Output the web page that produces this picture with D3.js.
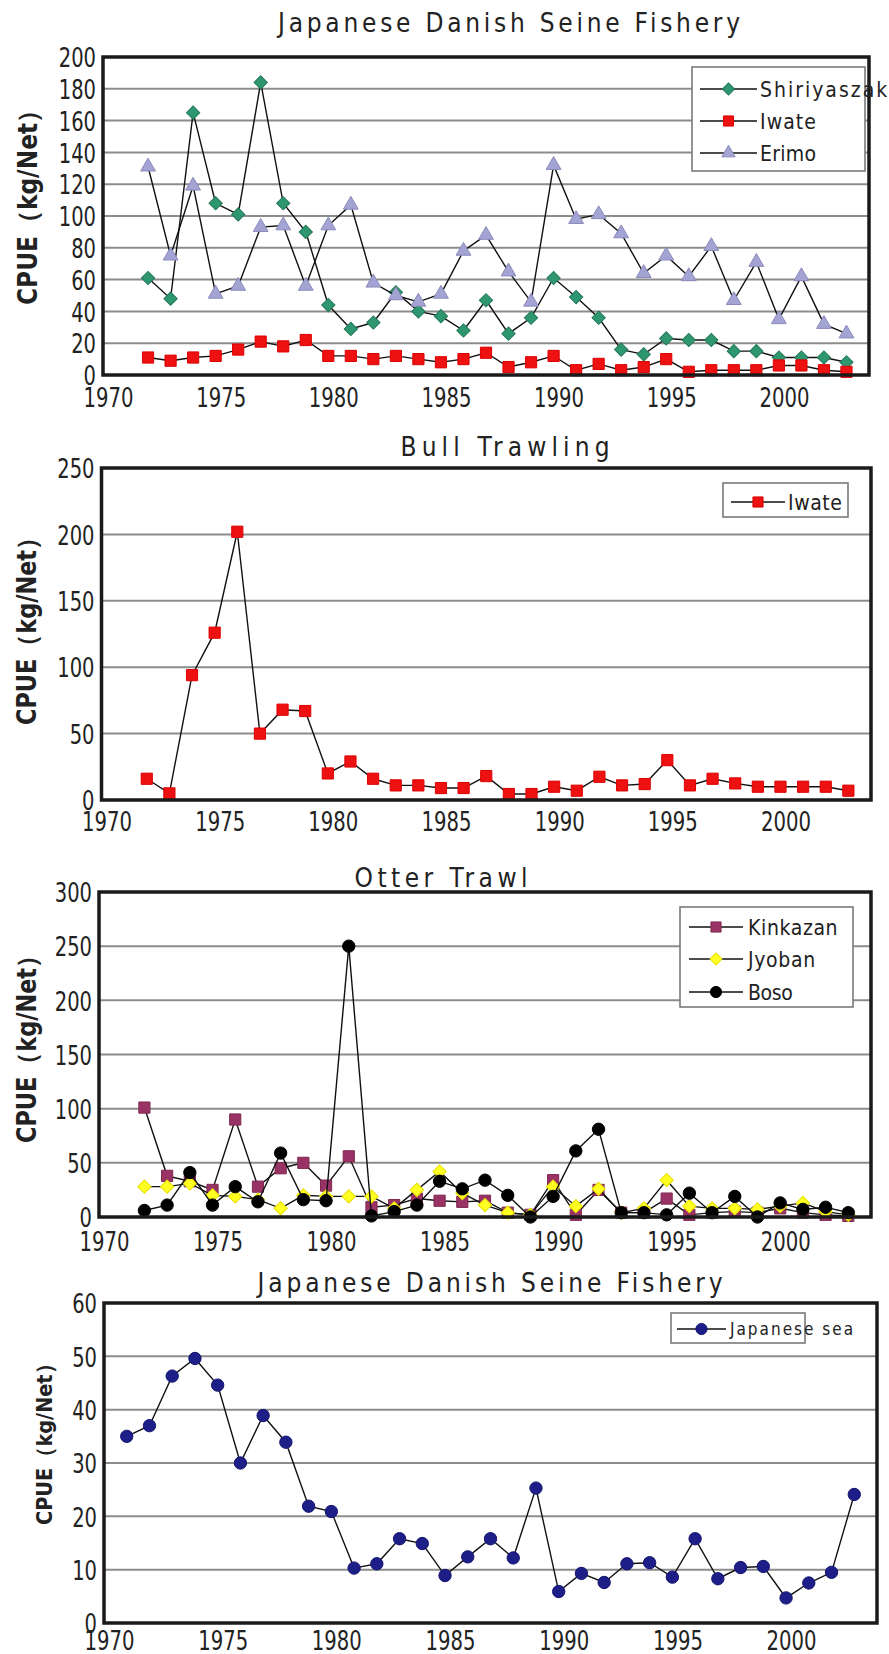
<!DOCTYPE html>
<html><head><meta charset="utf-8">
<script src="https://cdn.jsdelivr.net/npm/d3@7/dist/d3.min.js"></script>
<style>body{margin:0;background:#fff}svg{display:block}</style>
</head><body>
<svg id="c" width="889" height="1654"></svg>
<script>
// ---------------- DATA ----------------
const yearsPacific = [1972,1973,1974,1975,1976,1977,1978,1979,1980,1981,1982,1983,1984,1985,1986,1987,1988,1989,1990,1991,1992,1993,1994,1995,1996,1997,1998,1999,2000,2001,2002,2003];
const yearsJapanSea = [1971,1972,1973,1974,1975,1976,1977,1978,1979,1980,1981,1982,1983,1984,1985,1986,1987,1988,1989,1990,1991,1992,1993,1994,1995,1996,1997,1998,1999,2000,2001,2002,2003];
const xTickLabels = [1970,1975,1980,1985,1990,1995,2000];

// Panel 1: Japanese Danish Seine Fishery (Pacific)
const seineShiriyaszaki = [61,48,165,108,101,184,108,90,44,29,33,52,40,37,28,47,26,36,61,49,36,16,13,23,22,22,15,15,11,11,11,8];
const seineIwate        = [11,9,11,12,16,21,18,22,12,12,10,12,10,8,10,14,5,8,12,3,7,3,5,10,2,3,3,3,6,6,3,2];
const seineErimo        = [131,75,119,51,56,93,94,56,94,107,58,50,46,51,78,88,65,46,132,98,101,89,64,75,62,81,47,71,35,62,32,26];
const yTicks1 = [0,20,40,60,80,100,120,140,160,180,200];

// Panel 2: Bull Trawling
const bullIwate = [16,5,94,126,202,50,68,67,20,29,16,11,11,9,9,18,4.5,4.5,10,7,17.5,11,12,30,11,16,12.5,10,10,10,10,7];
const yTicks2 = [0,50,100,150,200,250];

// Panel 3: Otter Trawl
const otterKinkazan = [101,38,33,25,90,28,45,50,29,56,9,11,17,15,14,15,4,2,34,2,25,4,4,17,2,4,5,4,8,4,2,1];
const otterJyoban   = [28,28,31,20,19,16,8,20,19,19,19,8,25,42,22,11,4,2,28,10,26,4,8,34,10,8,8,7,10,13,5,2];
const otterBoso     = [6,11,41,11,28,14,59,16,15,250,1,5,11,33,26,34,20,0,19,61,81,4,4,2,22,4,19,0,13,7,9,4];
const yTicks3 = [0,50,100,150,200,250,300];

// Panel 4: Japanese Danish Seine Fishery (Japan Sea)
const japaneseSea = [35,37,46.3,49.6,44.6,30,38.9,33.9,21.9,20.9,10.3,11.1,15.8,14.9,8.9,12.4,15.8,12.2,25.3,5.9,9.3,7.6,11.1,11.3,8.6,15.8,8.3,10.4,10.6,4.7,7.5,9.5,24.1];
const yTicks4 = [0,10,20,30,40,50,60];

// ---------------- DRAWING ----------------
const F = "'DejaVu Sans Condensed','DejaVu Sans',sans-serif";
const svg = d3.select("#c");

const panels = [
  { title:"Japanese Danish Seine Fishery", tx:509, ty:32, tw:462,
    L:103, R:869, T:57, B:375, yMax:200, yTicks:yTicks1, xLabelY:407,
    yt:{x:28, y:201, len:208, size:26},
    series:[
      {name:"Shiriyaszaki", years:yearsPacific, values:seineShiriyaszaki, shape:"diamond", fill:"#2f9770", stroke:"#23785a"},
      {name:"Iwate", years:yearsPacific, values:seineIwate, shape:"square", fill:"#ee1111", stroke:"#dd0000"},
      {name:"Erimo", years:yearsPacific, values:seineErimo, shape:"triangle", fill:"#a4a4d4", stroke:"#8a8abb"}],
    legend:{x:692, y:67, w:173, h:104, rows:[89,121,153], l0:700, l1:757, tx:760, size:21, cw:11.2}
  },
  { title:"Bull Trawling", tx:505, ty:456, tw:209,
    L:101.5, R:871, T:468, B:800, yMax:250, yTicks:yTicks2, xLabelY:831,
    yt:{x:27, y:625, len:200, size:26},
    series:[
      {name:"Iwate", years:yearsPacific, values:bullIwate, shape:"square", fill:"#ee1111", stroke:"#dd0000"}],
    legend:{x:723, y:483, w:125, h:34, rows:[502], l0:731, l1:785, tx:788, size:21, cw:10.8}
  },
  { title:"Otter Trawl", tx:441, ty:887, tw:173,
    L:99, R:871, T:892, B:1217, yMax:300, yTicks:yTicks3, xLabelY:1251,
    yt:{x:27, y:1043, len:200, size:26},
    series:[
      {name:"Kinkazan", years:yearsPacific, values:otterKinkazan, shape:"square", fill:"#993366", stroke:"#80284f"},
      {name:"Jyoban", years:yearsPacific, values:otterJyoban, shape:"diamond", fill:"#ffff22", stroke:"#e8e000"},
      {name:"Boso", years:yearsPacific, values:otterBoso, shape:"circle", fill:"#000", stroke:"#000"}],
    legend:{x:680, y:907, w:173, h:100, rows:[927,959,992], l0:689, l1:743, tx:748, size:21, cw:11.2}
  },
  { title:"Japanese Danish Seine Fishery", tx:490, ty:1292, tw:465,
    L:104, R:877, T:1303, B:1623, yMax:60, yTicks:yTicks4, xLabelY:1650,
    yt:{x:44, y:1439, len:172, size:22},
    series:[
      {name:"Japanese sea", years:yearsJapanSea, values:japaneseSea, shape:"circle", fill:"#1e1e88", stroke:"#141470"}],
    legend:{x:671, y:1313, w:134, h:30, rows:[1329], l0:677, l1:726, tx:730, size:17, cw:10.25}
  }
];

function symbolPath(shape, big){
  const k = big ? 1 : 0.82;
  if(shape==="diamond") return d3.symbol(d3.symbolSquare, 88*k)();
  if(shape==="square") return d3.symbol(d3.symbolSquare, 125*k)();
  if(shape==="triangle") return d3.symbol(d3.symbolTriangle, 95*k)();
  return d3.symbol(d3.symbolCircle, 120*k)();
}

panels.forEach(p => {
  const g = svg.append("g");
  const x = d3.scaleLinear().domain([1970, 2004]).range([p.L, p.R]);
  const y = d3.scaleLinear().domain([0, p.yMax]).range([p.B, p.T]);

  // title
  g.append("text").attr("x", p.tx).attr("y", p.ty).attr("text-anchor","middle")
    .attr("font-family", F).attr("font-size", 26).attr("fill","#222")
    .attr("textLength", p.tw).attr("lengthAdjust","spacing").text(p.title);

  // y-axis title
  g.append("text").attr("transform", `translate(${p.yt.x},${p.yt.y}) rotate(-90)`)
    .attr("text-anchor","middle").attr("dominant-baseline","central")
    .attr("font-family", F).attr("font-weight","bold").attr("font-size", p.yt.size).attr("fill","#222")
    .attr("textLength", p.yt.len).attr("lengthAdjust","spacingAndGlyphs").text("CPUE（kg/Net）");

  // gridlines
  g.append("g").selectAll("line").data(p.yTicks).join("line")
    .attr("x1", p.L).attr("x2", p.R).attr("y1", d=>y(d)).attr("y2", d=>y(d))
    .attr("stroke", "#8c8c8c").attr("stroke-width", 2);

  // y axis labels
  const ya = g.append("g").attr("transform", `translate(${p.L-7},0)`)
    .call(d3.axisLeft(y).tickValues(p.yTicks).tickSize(0).tickPadding(0));
  ya.select(".domain").remove();
  ya.attr("font-family", F).attr("font-size", 27);
  ya.selectAll("text").attr("fill","#222").attr("dy","0.36em")
    .attr("textLength", function(d){ return String(d).length*12.4; })
    .attr("lengthAdjust","spacingAndGlyphs");

  // x axis labels
  const xa = g.append("g").attr("transform", `translate(5,${p.xLabelY})`)
    .call(d3.axisBottom(x).tickValues(xTickLabels).tickSize(0).tickPadding(0).tickFormat(d3.format("d")));
  xa.select(".domain").remove();
  xa.attr("font-family", F).attr("font-size", 27);
  xa.selectAll("text").attr("fill","#222").attr("y",0).attr("dy","0")
    .attr("textLength", 50).attr("lengthAdjust","spacingAndGlyphs");

  // series
  const line = d3.line().x(d=>x(d[0])).y(d=>y(d[1]));
  p.series.forEach(s => {
    const pts = s.years.map((yr,i)=>[yr, s.values[i]]);
    g.append("path").datum(pts).attr("d", line).attr("fill","none")
      .attr("stroke","#111").attr("stroke-width",1.4);
    g.append("g").selectAll("path").data(pts).join("path")
      .attr("d", symbolPath(s.shape, true))
      .attr("fill", s.fill).attr("stroke", s.stroke).attr("stroke-width", 1)
      .attr("transform", d=>`translate(${x(d[0])},${y(d[1])})` + (s.shape==="diamond"?" rotate(45)":""));
  });

  // frame
  g.append("rect").attr("x", p.L).attr("y", p.T).attr("width", p.R-p.L).attr("height", p.B-p.T)
    .attr("fill","none").attr("stroke","#1a1a1a").attr("stroke-width",3.5);

  // legend
  const lg = p.legend;
  g.append("rect").attr("x", lg.x).attr("y", lg.y).attr("width", lg.w).attr("height", lg.h)
    .attr("fill","#fff").attr("stroke","#7a7a7a").attr("stroke-width",1.6);
  p.series.forEach((s,i) => {
    const ry = lg.rows[i];
    g.append("line").attr("x1", lg.l0).attr("x2", lg.l1).attr("y1", ry).attr("y2", ry)
      .attr("stroke","#111").attr("stroke-width",1.4);
    const mx = (lg.l0+lg.l1)/2;
    g.append("path").attr("d", symbolPath(s.shape, false)).attr("fill", s.fill).attr("stroke", s.stroke).attr("stroke-width",1)
      .attr("transform", `translate(${mx},${ry})` + (s.shape==="diamond"?" rotate(45)":""));
    g.append("text").attr("x", lg.tx).attr("y", ry).attr("dy","0.36em")
      .attr("font-family", F).attr("font-size", lg.size).attr("fill","#222")
      .attr("textLength", s.name.length*lg.cw).attr("lengthAdjust","spacing").text(s.name);
  });
});
</script>
</body></html>
